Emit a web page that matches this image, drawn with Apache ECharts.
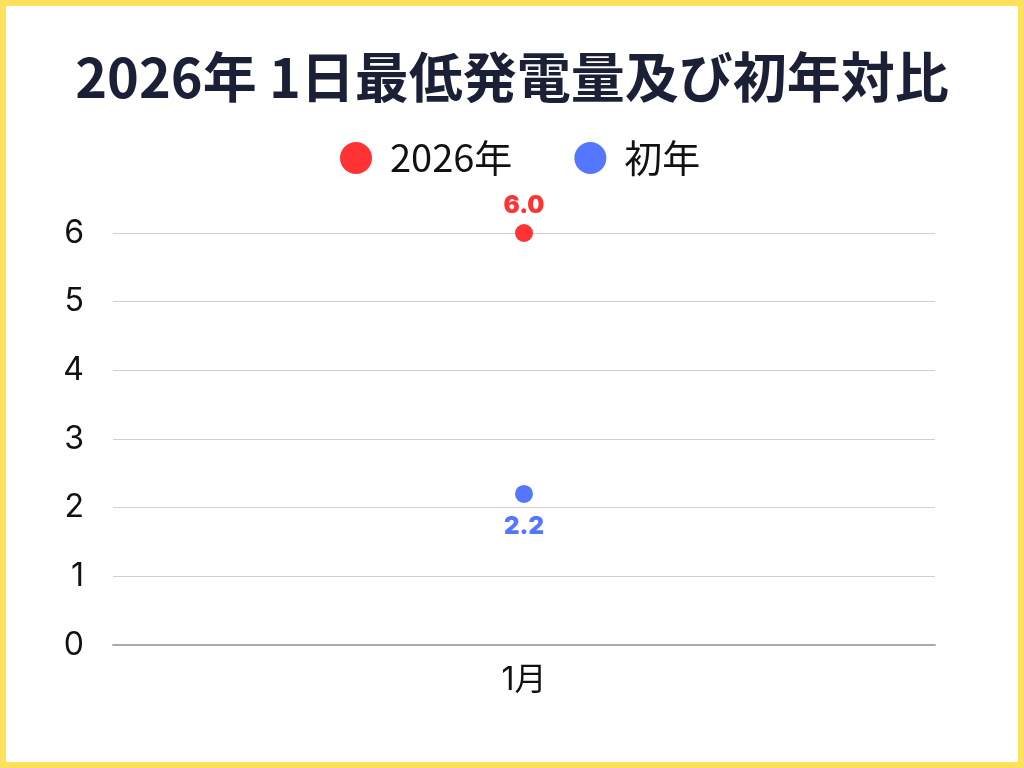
<!DOCTYPE html>
<html><head><meta charset="utf-8">
<script src="https://cdn.jsdelivr.net/npm/echarts@6/dist/echarts.min.js"></script>
<style>
html,body{margin:0;padding:0;background:#fff;}
#c{position:absolute;left:0;top:0;width:1024px;height:768px;}
#b{position:absolute;left:0;top:0;width:1024px;height:768px;box-sizing:border-box;border:6px solid #FFE05C;pointer-events:none;}
</style></head>
<body><div id="c"></div><div id="b"></div>
<script>
const categories = ['1月'];
const series2026 = [6.0];
const seriesFirst = [2.2];
const seriesNames = ['2026年', '初年'];
const titleText = '2026年 1日最低発電量及び初年対比';

const chart = echarts.init(document.getElementById('c'));
const font = "Inter, 'Noto Sans CJK JP', sans-serif";
const cjk = "'Noto Sans CJK JP', sans-serif";
chart.setOption({
  backgroundColor: '#fff',
  animation: false,
  textStyle: { fontFamily: font },
  title: {
    text: titleText, left: 'center', top: 45,
    textStyle: { fontSize: 54, fontWeight: 'bold', color: '#1b2036', fontFamily: cjk }
  },
  legend: {
    top: 134, left: 335, icon: 'circle', itemWidth: 32, itemHeight: 32, itemGap: 62,
    textStyle: { fontSize: 38, color: '#111', fontFamily: cjk, padding: [0, 0, 0, 13] },
    data: seriesNames
  },
  grid: { left: 113, right: 89, top: 233, bottom: 123 },
  xAxis: {
    type: 'category', data: categories,
    axisTick: { show: false },
    axisLine: { lineStyle: { color: '#aaa', width: 2 } },
    axisLabel: { fontSize: 32, color: '#111', margin: 19, fontFamily: font }
  },
  yAxis: {
    type: 'value', min: 0, max: 6, interval: 1,
    axisLabel: { fontSize: 32, color: '#111', margin: 29, fontFamily: font },
    splitLine: { lineStyle: { color: '#d0d0d0', width: 1 } }
  },
  series: [
    {
      name: seriesNames[0], type: 'scatter', data: series2026, symbolSize: 18,
      itemStyle: { color: '#FF3333', opacity: 1 },
      label: { show: true, position: 'top', distance: 6, formatter: p => p.value.toFixed(1),
        fontSize: 24, fontWeight: 900, color: '#FF3333' }
    },
    {
      name: seriesNames[1], type: 'scatter', data: seriesFirst, symbolSize: 18,
      itemStyle: { color: '#5577FF', opacity: 1 },
      label: { show: true, position: 'bottom', distance: 12, formatter: p => p.value.toFixed(1),
        fontSize: 24, fontWeight: 900, color: '#5577FF' }
    }
  ]
});
</script></body></html>
